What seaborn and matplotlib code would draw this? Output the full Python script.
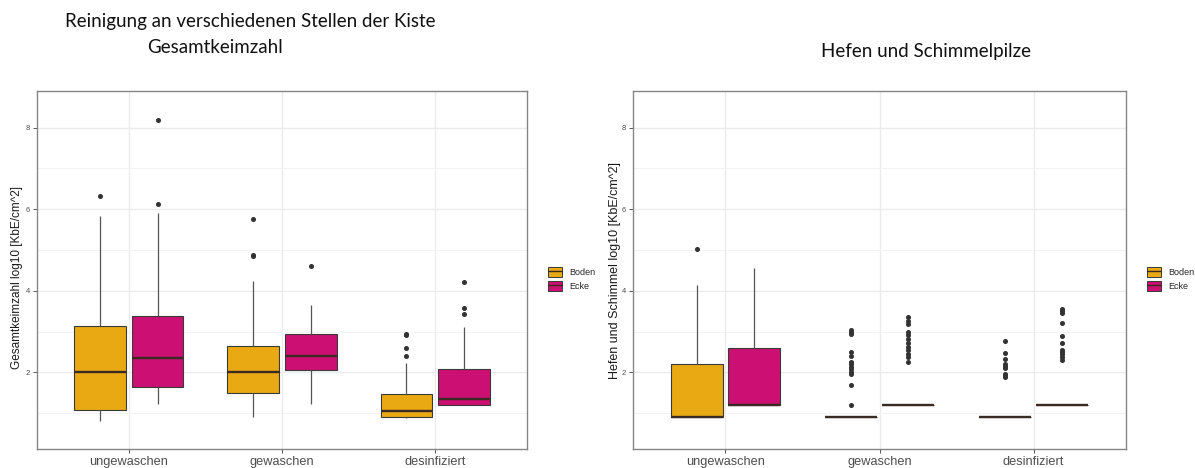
import pandas as pd
import matplotlib
matplotlib.use("Agg")
import matplotlib.pyplot as plt
import seaborn as sns
from matplotlib.patches import Patch
from matplotlib.lines import Line2D

# Kategorien
stufen = ["ungewaschen", "gewaschen", "desinfiziert"]
stellen = ["Boden", "Ecke"]
farben = ["#E9A913", "#CC0F72"]

# Gesamtkeimzahl, log10 [KbE/cm^2]
gk_ungewaschen_boden = [0.81, 0.95, 1.07, 1.50, 2.00, 2.55, 3.14, 5.83, 6.33]
gk_ungewaschen_ecke = [1.22, 1.38, 1.52, 1.64, 1.90, 2.15, 2.36, 2.70, 3.05, 3.38,
                       5.92, 6.12, 8.19]
gk_gewaschen_boden = [0.91, 1.10, 1.25, 1.40, 1.49, 1.60, 1.75, 1.90, 2.00, 2.15,
                      2.30, 2.50, 2.65, 4.24, 4.86, 4.89, 5.75]
gk_gewaschen_ecke = [1.22, 1.70, 2.06, 2.25, 2.41, 2.70, 2.93, 3.65, 4.60]
gk_desinfiziert_boden = [0.87, 0.88, 0.88, 0.89, 0.89, 0.90, 0.93, 0.96, 0.99, 1.01,
                         1.04, 1.12, 1.20, 1.28, 1.37, 1.46, 2.23, 2.39, 2.60, 2.91,
                         2.95]
gk_desinfiziert_ecke = [1.21, 1.21, 1.21, 1.21, 1.21, 1.24, 1.27, 1.30, 1.34, 1.50,
                        1.70, 1.90, 2.08, 3.11, 3.43, 3.57, 4.22]

# Hefen und Schimmel, log10 [KbE/cm^2]; Proben unter der Nachweisgrenze
# werden mit dem Grenzwert der jeweiligen Stelle geführt
nachweisgrenze_boden = 0.90
nachweisgrenze_ecke = 1.20
hs_ungewaschen_boden_unter_ng = 5
hs_ungewaschen_ecke_unter_ng = 5
hs_sonst_unter_ng = 40

hs_ungewaschen_boden = [1.50, 2.21, 4.15, 5.02]
hs_ungewaschen_ecke = [1.90, 2.60, 3.50, 4.57]
hs_gewaschen_boden = [1.20, 1.69, 1.96, 2.02, 2.07, 2.14, 2.20, 2.26, 2.41, 2.49,
                      2.93, 2.99, 3.04]
hs_gewaschen_ecke = [2.26, 2.37, 2.46, 2.54, 2.63, 2.72, 2.81, 2.91, 3.00, 3.18,
                     3.26, 3.35]
hs_desinfiziert_boden = [1.89, 1.93, 1.97, 2.11, 2.16, 2.20, 2.32, 2.48, 2.77]
hs_desinfiziert_ecke = [2.30, 2.38, 2.45, 2.50, 2.55, 2.71, 2.88, 3.20, 3.46, 3.50,
                        3.55]


def tabelle(gruppen):
    zeilen = []
    for (stufe, stelle), werte in gruppen.items():
        zeilen += [(stufe, stelle, w) for w in werte]
    return pd.DataFrame(zeilen, columns=["Stufe", "Stelle", "Wert"])


df_gk = tabelle({
    ("ungewaschen", "Boden"): gk_ungewaschen_boden,
    ("ungewaschen", "Ecke"): gk_ungewaschen_ecke,
    ("gewaschen", "Boden"): gk_gewaschen_boden,
    ("gewaschen", "Ecke"): gk_gewaschen_ecke,
    ("desinfiziert", "Boden"): gk_desinfiziert_boden,
    ("desinfiziert", "Ecke"): gk_desinfiziert_ecke,
})

df_hs = tabelle({
    ("ungewaschen", "Boden"): [nachweisgrenze_boden] * hs_ungewaschen_boden_unter_ng + hs_ungewaschen_boden,
    ("ungewaschen", "Ecke"): [nachweisgrenze_ecke] * hs_ungewaschen_ecke_unter_ng + hs_ungewaschen_ecke,
    ("gewaschen", "Boden"): [nachweisgrenze_boden] * hs_sonst_unter_ng + hs_gewaschen_boden,
    ("gewaschen", "Ecke"): [nachweisgrenze_ecke] * hs_sonst_unter_ng + hs_gewaschen_ecke,
    ("desinfiziert", "Boden"): [nachweisgrenze_boden] * hs_sonst_unter_ng + hs_desinfiziert_boden,
    ("desinfiziert", "Ecke"): [nachweisgrenze_ecke] * hs_sonst_unter_ng + hs_desinfiziert_ecke,
})

sns.set_theme(style="white")
plt.rcParams["font.family"] = ["Liberation Sans", "DejaVu Sans"]

W, H = 1195, 468
fig = plt.figure(figsize=(W / 100, H / 100), dpi=100)


def px_axes(x0, x1, y0, y1):
    return fig.add_axes([x0 / W, 1 - y1 / H, (x1 - x0) / W, (y1 - y0) / H])


def panel(ax, df, ylabel, ylabel_size, ylabel_pos):
    sns.boxplot(
        data=df, x="Stufe", y="Wert", hue="Stelle",
        order=stufen, hue_order=stellen, palette=farben, saturation=1,
        width=0.75, gap=0.1, whis=1.5, showcaps=False,
        linecolor="#3a3a3a", linewidth=0.8, fliersize=2.6,
        flierprops=dict(marker="o", markerfacecolor="#333333",
                        markeredgecolor="#333333"),
        medianprops=dict(color="#3a2a24", linewidth=1.7),
        whiskerprops=dict(color="#555555", linewidth=0.9),
        legend=False, ax=ax,
    )
    ax.set_xlim(-0.6, 2.6)
    ax.set_ylim(0.12, 8.9)
    ax.set_yticks([2, 4, 6, 8])
    ax.set_yticks([1, 3, 5, 7], minor=True)
    ax.set_axisbelow(True)
    ax.grid(which="major", color="#ebebeb", linewidth=1.0)
    ax.grid(which="minor", axis="y", color="#f3f3f3", linewidth=0.7)
    for sp in ax.spines.values():
        sp.set_visible(True)
        sp.set_color("#858585")
        sp.set_linewidth(1.0)
    ax.tick_params(axis="both", which="major", length=3, width=0.7,
                   color="#555555", labelcolor="#4d4d4d", left=True, bottom=True)
    ax.tick_params(axis="y", which="minor", length=0)
    ax.tick_params(axis="y", labelsize=5.5, pad=2)
    ax.tick_params(axis="x", labelsize=9.2, pad=2)
    ax.set_xlabel("")
    ax.set_ylabel(ylabel, fontsize=ylabel_size, color="#1a1a1a")
    ax.yaxis.set_label_coords(*ylabel_pos)

    griffe = [
        (Patch(facecolor=f, edgecolor="#3a3a3a", linewidth=0.7),
         Line2D([], [], color="#3a2a24", linewidth=1.0))
        for f in farben
    ]
    ax.legend(griffe, stellen, loc="center left", bbox_to_anchor=(1.035, 0.475),
              frameon=False, fontsize=6.5, handlelength=1.6, handleheight=1.35,
              labelspacing=0.35, handletextpad=0.8, borderaxespad=0)


ax1 = px_axes(37, 527, 91, 449)
panel(ax1, df_gk, "Gesamtkeimzahl log10 [KbE/cm^2]", 8.5, (-0.029, 0.478))

ax2 = px_axes(633, 1126, 91, 449)
panel(ax2, df_hs, "Hefen und Schimmel log10 [KbE/cm^2]", 9.0, (-0.024, 0.5))

titel = dict(family=["Lato", "DejaVu Sans"], fontsize=13.5, color="#111111",
             ha="center", va="baseline")
fig.text(250 / W, 1 - 27 / H, "Reinigung an verschiedenen Stellen der Kiste", **titel)
fig.text(215 / W, 1 - 53 / H, "Gesamtkeimzahl", **titel)
fig.text(926 / W, 1 - 57 / H, "Hefen und Schimmelpilze", **titel)

fig.savefig("out.png", dpi=100)
